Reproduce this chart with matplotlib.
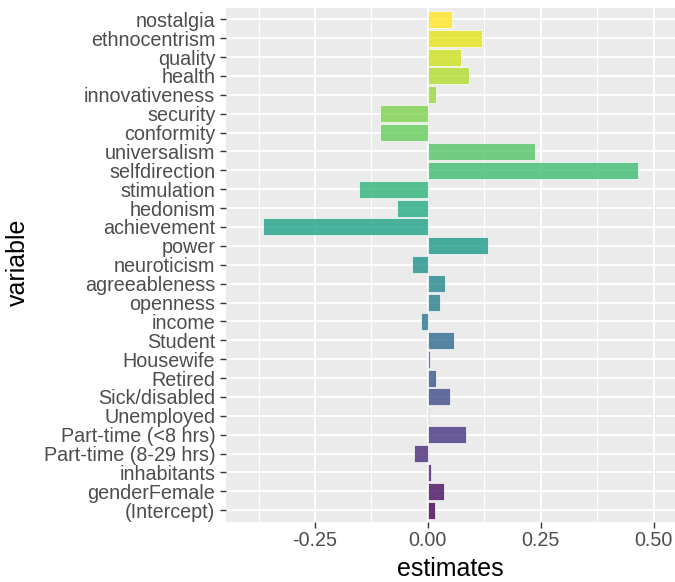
import matplotlib
matplotlib.use("Agg")
import matplotlib.pyplot as plt
import numpy as np

plt.rcParams['font.family'] = ['Liberation Sans', 'DejaVu Sans']

# categories from bottom to top
variables = ["(Intercept)", "genderFemale", "inhabitants", "Part-time (8-29 hrs)",
             "Part-time (<8 hrs)", "Unemployed", "Sick/disabled", "Retired",
             "Housewife", "Student", "income", "openness", "agreeableness",
             "neuroticism", "power", "achievement", "hedonism", "stimulation",
             "selfdirection", "universalism", "conformity", "security",
             "innovativeness", "health", "quality", "ethnocentrism", "nostalgia"]
estimates = [0.016, 0.035, 0.007, -0.030, 0.085, 0.003, 0.049, 0.019, 0.005,
             0.058, -0.015, 0.027, 0.038, -0.035, 0.134, -0.364, -0.069,
             -0.153, 0.464, 0.237, -0.107, -0.107, 0.019, 0.091, 0.073,
             0.119, 0.054]
x_ticks = [-0.25, 0.0, 0.25, 0.50]
x_ticklabels = ["-0.25", "0.00", "0.25", "0.50"]

W, H = 675, 582
fig = plt.figure(figsize=(W / 100, H / 100), dpi=100)
left, right, top, bottom = 226, 675, 8, 521.5
ax = fig.add_axes([left / W, 1 - bottom / H, (right - left) / W, (bottom - top) / H])
ax.set_facecolor("#EBEBEB")

n = len(variables)
ypos = np.arange(n)
colors = plt.cm.viridis(np.linspace(0, 1, n))
ax.barh(ypos, estimates, height=0.9, color=colors, alpha=0.8,
        edgecolor=(1, 1, 1, 0.45), linewidth=0.6, zorder=3)

ax.set_xlim(-0.447, 0.547)
ax.set_ylim(-0.6, n - 0.4)
ax.set_xticks(x_ticks)
ax.set_xticklabels(x_ticklabels)
ax.set_xticks([-0.375, -0.125, 0.125, 0.375], minor=True)
ax.set_yticks(ypos)
ax.set_yticklabels(variables)

ax.grid(which="major", color="white", linewidth=1.4, zorder=0)
ax.grid(which="minor", axis="x", color="white", linewidth=0.7, zorder=0)
ax.set_axisbelow(True)
for s in ax.spines.values():
    s.set_visible(False)

ax.tick_params(axis="both", which="major", length=4.5, width=1.0, color="#333333",
               labelcolor="#4D4D4D", labelsize=14.2)
ax.tick_params(axis="y", pad=3.2)
ax.tick_params(axis="x", pad=2.5)
ax.tick_params(which="minor", length=0)

fig.text(450 / W, 1 - 576.5 / H, "estimates", ha="center", va="baseline",
         fontsize=18, color="black")
fig.text(17.5 / W, 1 - 262 / H, "variable", ha="center", va="center",
         rotation=90, fontsize=18, color="black")

fig.savefig("out.png", dpi=100, facecolor="white")
